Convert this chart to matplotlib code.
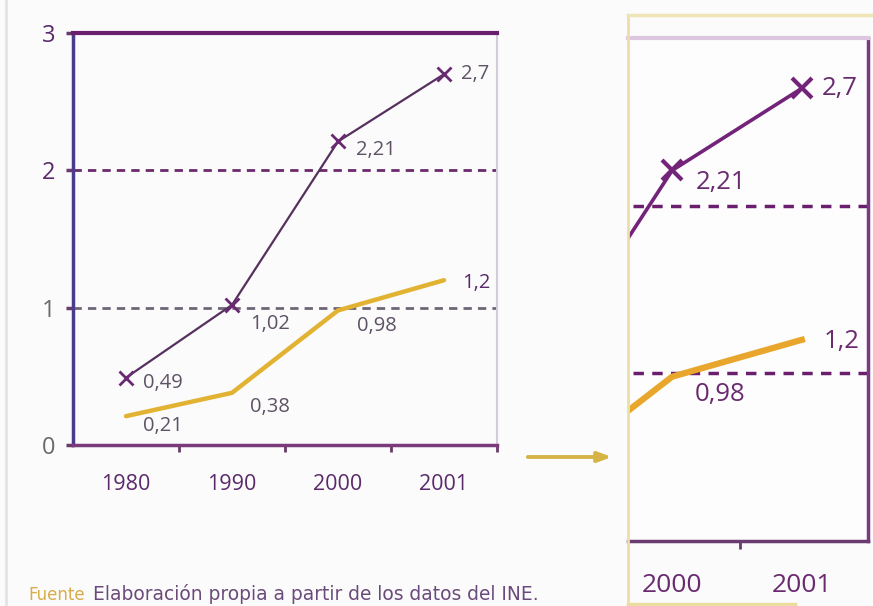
import matplotlib
matplotlib.use("Agg")
import matplotlib.pyplot as plt
from matplotlib.lines import Line2D
from matplotlib.ticker import FixedLocator

plt.rcParams['font.family'] = ['Open Sans', 'DejaVu Sans']

# ---- data ----
years = ["1980", "1990", "2000", "2001"]
serie_morada = [0.49, 1.02, 2.21, 2.7]
serie_amarilla = [0.21, 0.38, 0.98, 1.2]
etiq_morada = ["0,49", "1,02", "2,21", "2,7"]
etiq_amarilla = ["0,21", "0,38", "0,98", "1,2"]
yticks = [0, 1, 2, 3]
ylabels = ["0", "1", "2", "3"]

W, H = 873, 606
fig = plt.figure(figsize=(W / 100, H / 100), dpi=100)
fig.patch.set_facecolor('#fbfbfb')

def fx(px):
    return px / W

def fy(py):
    return 1 - py / H

PURPLE = '#6a1f6e'
PURPLE_LINE = '#56305e'
GOLD = '#e2b232'
GOLD_R = '#e8a72c'
LABEL_GRAY = '#5e5266'

x = list(range(len(years)))

# ---------------- left chart ----------------
ax = fig.add_axes([fx(73), fy(445), fx(497) - fx(73), fy(33) - fy(445)])
ax.set_facecolor('#fbfbfb')
ax.set_xlim(-0.5, 3.5)
ax.set_ylim(0, 3)

for yv, col in [(1, '#6e6676'), (2, '#6a2a6c')]:
    ax.axhline(yv, color=col, lw=2, ls=(0, (3, 2.2)), zorder=1)

ax.plot(x, serie_amarilla, color=GOLD, lw=3.2, solid_capstyle='round', zorder=3)
ax.plot(x, serie_morada, color=PURPLE_LINE, lw=1.6, marker='x', ms=10,
        mew=2, mec='#6a2a72', zorder=4)

off_m = [(12, -4), (13, -14), (13, -6), (12, 0)]
off_a = [(12, -7), (13, -10), (14, -11), (13, -2)]
for i in x:
    ax.annotate(etiq_morada[i], (i, serie_morada[i]), xytext=off_m[i],
                textcoords='offset points', ha='left', va='center',
                fontsize=14.5, color=LABEL_GRAY, zorder=5)
    ax.annotate(etiq_amarilla[i], (i, serie_amarilla[i]), xytext=off_a[i],
                textcoords='offset points', ha='left', va='center',
                fontsize=14.5, color=LABEL_GRAY if i != 3 else '#5a2a6a', zorder=5)

ax.spines['top'].set_color(PURPLE)
ax.spines['top'].set_linewidth(3)
ax.spines['left'].set_color('#4b3b8c')
ax.spines['left'].set_linewidth(2.5)
ax.spines['bottom'].set_color('#7a3a7c')
ax.spines['bottom'].set_linewidth(2.5)
ax.spines['right'].set_color('#d4ccd6')
ax.spines['right'].set_linewidth(1.5)

ax.set_yticks(yticks)
ax.set_yticklabels(ylabels)
ax.tick_params(axis='y', length=5, width=2.5, color='#6a3a6a', pad=8,
               labelsize=17)
for lab, col in zip(ax.get_yticklabels(), ['#6a6a6a', '#6a6a6a', '#5a2a6a', '#5a2a6a']):
    lab.set_color(col)

ax.set_xticks(x)
ax.set_xticklabels(years)
ax.tick_params(axis='x', length=0, pad=21, labelsize=15.5, labelcolor='#5a2a6a')
ax.xaxis.set_minor_locator(FixedLocator([0.5, 1.5, 2.5, 3.5]))
ax.tick_params(axis='x', which='minor', length=5, width=2, color='#6a3a6a')

# ---------------- right (zoom) chart ----------------
ax2 = fig.add_axes([fx(628), fy(541), fx(868) - fx(628), fy(38) - fy(541)])
ax2.set_facecolor('#fdfdfd')
ax2.set_xlim(1.66, 3.51)
ax2.set_ylim(0, 3)

for yv in [1, 2]:
    ax2.plot([1.70, 3.51], [yv, yv], color='#6a1f6e', lw=2.5, ls=(0, (3, 2.4)), zorder=1)

ax2.plot(x, serie_amarilla, color=GOLD_R, lw=4.5, zorder=3)
ax2.plot(x, serie_morada, color='#73237a', lw=2.6, marker='x', ms=15,
         mew=3, zorder=4)

off2_m = {2: (17, -9), 3: (14, 0)}
off2_a = {2: (16, -13), 3: (16, -1)}
for i in (2, 3):
    ax2.annotate(etiq_morada[i], (i, serie_morada[i]), xytext=off2_m[i],
                 textcoords='offset points', ha='left', va='center',
                 fontsize=18.5, color='#6a2a70', zorder=5)
    ax2.annotate(etiq_amarilla[i], (i, serie_amarilla[i]), xytext=off2_a[i],
                 textcoords='offset points', ha='left', va='center',
                 fontsize=18.5, color='#6a2a70', zorder=5)

ax2.spines['top'].set_color('#dcc6e0')
ax2.spines['top'].set_linewidth(3)
ax2.spines['right'].set_color('#7a3a82')
ax2.spines['right'].set_linewidth(2.5)
ax2.spines['bottom'].set_color('#6a3a70')
ax2.spines['bottom'].set_linewidth(2.5)
ax2.spines['left'].set_visible(False)
ax2.set_yticks([])
ax2.set_xticks([2, 3])
ax2.set_xticklabels(["2000", "2001"])
ax2.tick_params(axis='x', length=0, pad=23, labelsize=19, labelcolor='#6a2a70')
ax2.xaxis.set_minor_locator(FixedLocator([2.52]))
ax2.tick_params(axis='x', which='minor', length=6, width=2, color='#6a3a70')

# frame lines around the zoom panel
fig.add_artist(Line2D([fx(628), fx(628)], [fy(15), fy(606)], color='#ecdfa6', lw=2))
fig.add_artist(Line2D([fx(628), fx(873)], [fy(15), fy(15)], color='#efe4b4', lw=2.5))
fig.add_artist(Line2D([fx(628), fx(795)], [fy(604), fy(604)], color='#ebdca0', lw=2.5))
fig.add_artist(Line2D([fx(6), fx(6)], [fy(0), fy(606)], color='#e4e4e4', lw=2))

# arrow between panels
fig.add_artist(plt.annotate('', xy=(fx(614), fy(457)), xytext=(fx(525), fy(457)),
                            xycoords='figure fraction', textcoords='figure fraction',
                            arrowprops=dict(arrowstyle='-|>,head_length=0.8,head_width=0.3',
                                            color='#d6b444', lw=2.5)))

# footer
fig.text(fx(28), fy(600), "Fuente", fontsize=12, color='#d8ac4a', va='baseline', ha='left',
         family=['DejaVu Sans'])
fig.text(fx(93), fy(600), "Elaboración propia a partir de los datos del INE.",
         fontsize=13.4, color='#6a4a7a', va='baseline', ha='left', family=['DejaVu Sans'])

fig.savefig('out.png', dpi=100, facecolor=fig.get_facecolor())
